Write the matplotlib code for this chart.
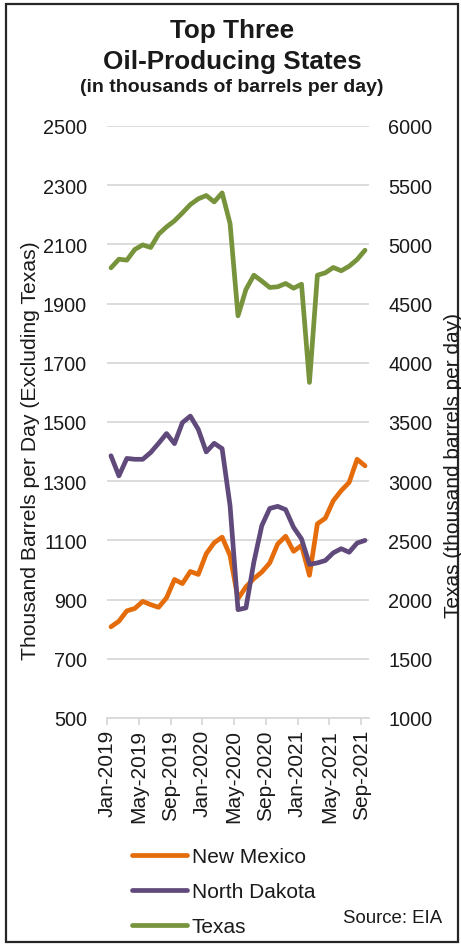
import matplotlib
matplotlib.use("Agg")
import matplotlib.pyplot as plt
import numpy as np
from matplotlib.patches import Rectangle

plt.rcParams["font.family"] = ["Liberation Sans", "DejaVu Sans"]

# monthly values, Jan-2019 .. Sep-2021 (thousand barrels per day)
new_mexico = [808, 827, 862, 870, 894, 883, 874, 906, 968, 954, 995, 985,
              1055, 1092, 1111, 1049, 903, 943, 971, 993, 1024, 1088, 1114, 1063,
              1083, 982, 1156, 1175, 1234, 1268, 1296, 1374, 1352]
north_dakota = [1386, 1318, 1377, 1374, 1374, 1397, 1428, 1461, 1427, 1498, 1520, 1475,
                1399, 1428, 1410, 1217, 866, 872, 1027, 1150, 1208, 1215, 1204, 1144,
                1105, 1019, 1024, 1032, 1058, 1072, 1060, 1091, 1100]
texas = [4802, 4875, 4867, 4957, 4996, 4974, 5086, 5148, 5199, 5266, 5337, 5385,
         5413, 5359, 5435, 5176, 4397, 4619, 4740, 4690, 4636, 4642, 4670, 4630,
         4664, 3834, 4740, 4760, 4805, 4777, 4816, 4872, 4951]

tick_labels = ["Jan-2019", "May-2019", "Sep-2019", "Jan-2020", "May-2020",
               "Sep-2020", "Jan-2021", "May-2021", "Sep-2021"]

ORANGE = "#E46C0A"
PURPLE = "#604A7B"
GREEN = "#77933C"
GRID = "#D9D9D9"
TEXT = "#1a1a1a"

W, H = 461, 945
fig = plt.figure(figsize=(W / 100, H / 100), dpi=100)


def fx(px):
    return px / W


def fy(py):
    return 1 - py / H


# outer frame
fig.patches.append(Rectangle((fx(6), fy(943)), 452 / W, 938 / H,
                             transform=fig.transFigure, fill=False,
                             edgecolor="#262626", linewidth=1.6))

ax = fig.add_axes([fx(107), fy(719), 262 / W, 592 / H])
ax2 = ax.twinx()

x = np.arange(len(texas)) + 0.5
line_kw = dict(lw=3.4, solid_capstyle="round", solid_joinstyle="round", zorder=3)
ax.plot(x, new_mexico, color=ORANGE, label="New Mexico", **line_kw)
ax.plot(x, north_dakota, color=PURPLE, label="North Dakota", **line_kw)
ax2.plot(x, texas, color=GREEN, label="Texas", **line_kw)

ax.set_xlim(0, len(texas))
ax.set_ylim(500, 2500)
ax.set_yticks(np.arange(500, 2501, 200))
ax2.set_ylim(1000, 6000)
ax2.set_yticks(np.arange(1000, 6001, 500))
ax.set_xticks(np.arange(0, len(texas), 4))
ax.set_xticklabels(tick_labels, rotation=90, fontsize=15)

ax.grid(axis="y", color=GRID, linewidth=1.3, zorder=0)
ax.set_axisbelow(True)
for a in (ax, ax2):
    for side in ("top", "left", "right"):
        a.spines[side].set_visible(False)
ax.spines["bottom"].set_color(GRID)
ax.spines["bottom"].set_linewidth(1.3)
ax2.spines["bottom"].set_visible(False)

ax.tick_params(axis="y", length=0, pad=14.4, labelsize=14.3, labelcolor=TEXT)
ax2.tick_params(axis="y", length=0, pad=13.7, labelsize=14.3, labelcolor=TEXT)
ax.tick_params(axis="x", length=5, width=1.3, color=GRID, pad=3,
               labelcolor=TEXT)

fig.text(fx(31), fy(451), "Thousand Barrels per Day (Excluding Texas)",
         rotation=90, ha="center", va="center", fontsize=15.2, color=TEXT)
fig.text(fx(453), fy(466), "Texas (thousand barrels per day)",
         rotation=90, ha="center", va="center", fontsize=15, color=TEXT)

fig.text(fx(232), fy(31), "Top Three", ha="center", va="center",
         fontsize=18.8, fontweight="bold", color=TEXT)
fig.text(fx(232), fy(62), "Oil-Producing States", ha="center", va="center",
         fontsize=18.8, fontweight="bold", color=TEXT)
fig.text(fx(232), fy(88), "(in thousands of barrels per day)", ha="center",
         va="center", fontsize=14, fontweight="bold", color=TEXT)

handles = ax.get_lines() + ax2.get_lines()
fig.legend(handles, [h.get_label() for h in handles], loc="upper left",
           bbox_to_anchor=(fx(132), fy(848)), frameon=False, fontsize=15,
           handlelength=2.65, handletextpad=0.22, labelspacing=0.78,
           borderaxespad=0, borderpad=0, labelcolor=TEXT)

fig.text(fx(442), fy(919), "Source: EIA", ha="right", va="center",
         fontsize=13.4, color=TEXT)

fig.savefig("out.png", dpi=100)
